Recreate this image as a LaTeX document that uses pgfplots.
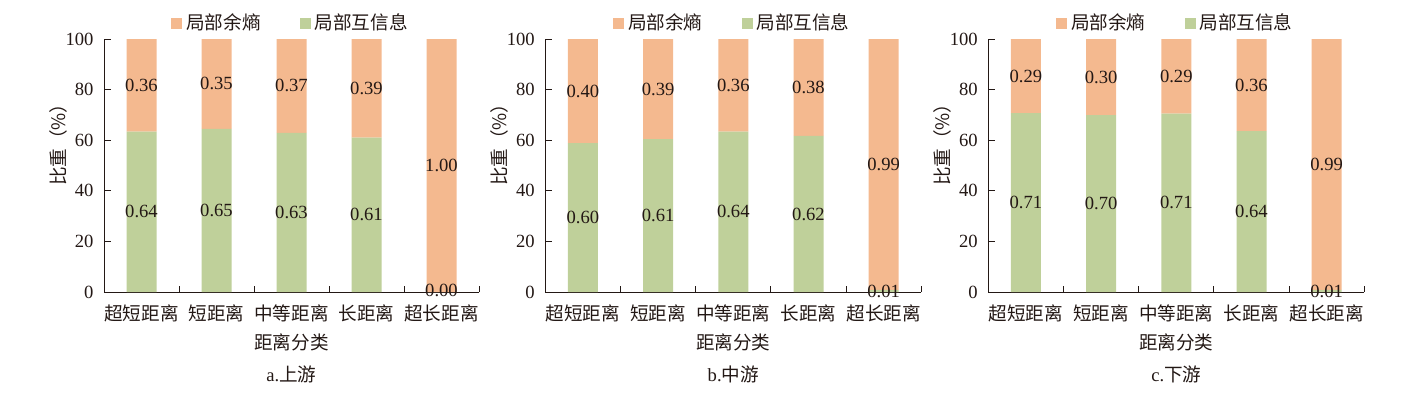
\documentclass[border=0pt]{standalone}
\usepackage{fontspec}
\setmainfont{Liberation Serif}
\newfontfamily\cjk{Noto Sans CJK SC}
\usepackage{pgfplots}
\pgfplotsset{compat=1.18}
\definecolor{cOr}{HTML}{F4B98F}
\definecolor{cGr}{HTML}{BFD09A}
\definecolor{cTx}{HTML}{231815}
\pgfplotsset{
  sqleg/.style={legend image code/.code={\fill[##1] (0pt,-2.75pt) rectangle (5.5pt,2.75pt);}},
  panel/.style={
    scale only axis, height=126.5pt,
    ybar stacked, bar width=15pt,
    xmin=-0.5, xmax=4.5, ymin=0, ymax=100,
    axis lines*=left,
    axis line style={cTx, line width=0.5pt},
    tick align=inside,
    tick style={cTx, line width=0.5pt},
    xtick={0,...,4},
    xticklabels={超短距离,短距离,中等距离,长距离,超长距离},
    xticklabel style={font=\cjk, anchor=center, yshift=-10.5pt},
    major x tick style={draw=none},
    minor xtick={0.5,1.5,2.5,3.5,4.5},
    minor tick length=3.2pt,
    ytick={0,20,...,100}, major tick length=3.5pt,
    yticklabel style={xshift=-2pt},
    /pgf/number format/assume math mode=true,
    ylabel={\cjk 比重（\%）},
    xlabel={\cjk 距离分类},
    xlabel style={at={(axis description cs:0.5,-0.1976)}, anchor=center},
    title style={at={(axis description cs:0.5,-0.372)}, anchor=center, yshift=0pt},
    legend style={at={(axis description cs:0.5,1.063)}, anchor=center, legend columns=2,
      draw=none, fill=none, font=\cjk,
      /tikz/every even column/.append style={column sep=17.5pt}},
    legend cell align=left,
    reverse legend,
  },
  labs/.style={
    scale only axis, height=126.5pt,
    xmin=-0.5, xmax=4.5, ymin=0, ymax=100,
    hide axis, clip=false,
    every node near coord/.append style={anchor=center, text=cTx},
  },
  labplot/.style={only marks, mark=*, mark size=0pt, mark options={draw=none, fill=none},
    nodes near coords, point meta=explicit symbolic},
}
\begin{document}
\fontsize{9.3pt}{11pt}\selectfont\color{cTx}
\begin{tikzpicture}
\path[use as bounding box] (0,0) rectangle (713.5pt,198.5pt);
% ---------- panel a ----------
\begin{axis}[panel, at={(52pt,52.5pt)}, anchor=south west, width=187.5pt,
  ylabel style={at={(axis description cs:-0.1227,0.6)}, anchor=center},
  title={a.{\cjk 上游}}]
\addplot[sqleg, fill=cGr, draw=none] coordinates {(0,63.4) (1,64.5) (2,62.9) (3,61.0) (4,0)};
\addlegendentry{局部互信息}
\addplot[sqleg, fill=cOr, draw=none] coordinates {(0,36.6) (1,35.5) (2,37.1) (3,39.0) (4,100)};
\addlegendentry{局部余熵}
\end{axis}
\begin{axis}[labs, at={(52pt,52.5pt)}, anchor=south west, width=187.5pt]
\addplot[labplot] table[meta=l] {
x y l
0 31.7 0.64
1 32.25 0.65
2 31.45 0.63
3 30.5 0.61
4 0.6 0.00
0 81.7 0.36
1 82.25 0.35
2 81.45 0.37
3 80.5 0.39
4 50.2 1.00
};
\end{axis}
% ---------- panel b ----------
\begin{axis}[panel, at={(272.65pt,52.5pt)}, anchor=south west, width=188pt,
  ylabel style={at={(axis description cs:-0.1223,0.6)}, anchor=center},
  title={b.{\cjk 中游}}]
\addplot[sqleg, fill=cGr, draw=none] coordinates {(0,58.8) (1,60.4) (2,63.4) (3,61.7) (4,0.8)};
\addlegendentry{局部互信息}
\addplot[sqleg, fill=cOr, draw=none] coordinates {(0,41.2) (1,39.6) (2,36.6) (3,38.3) (4,99.2)};
\addlegendentry{局部余熵}
\end{axis}
\begin{axis}[labs, at={(272.65pt,52.5pt)}, anchor=south west, width=188pt]
\addplot[labplot] table[meta=l] {
x y l
0 29.4 0.60
1 30.2 0.61
2 31.7 0.64
3 30.85 0.62
4 0.4 0.01
0 79.4 0.40
1 80.2 0.39
2 81.7 0.36
3 80.85 0.38
4 50.4 0.99
};
\end{axis}
% ---------- panel c ----------
\begin{axis}[panel, at={(494.15pt,52.5pt)}, anchor=south west, width=188pt,
  ylabel style={at={(axis description cs:-0.1223,0.6)}, anchor=center},
  title={c.{\cjk 下游}}]
\addplot[sqleg, fill=cGr, draw=none] coordinates {(0,70.7) (1,69.9) (2,70.5) (3,63.6) (4,0.8)};
\addlegendentry{局部互信息}
\addplot[sqleg, fill=cOr, draw=none] coordinates {(0,29.3) (1,30.1) (2,29.5) (3,36.4) (4,99.2)};
\addlegendentry{局部余熵}
\end{axis}
\begin{axis}[labs, at={(494.15pt,52.5pt)}, anchor=south west, width=188pt]
\addplot[labplot] table[meta=l] {
x y l
0 35.35 0.71
1 34.95 0.70
2 35.25 0.71
3 31.8 0.64
4 0.4 0.01
0 85.35 0.29
1 84.95 0.30
2 85.25 0.29
3 81.8 0.36
4 50.4 0.99
};
\end{axis}
\end{tikzpicture}
\end{document}
